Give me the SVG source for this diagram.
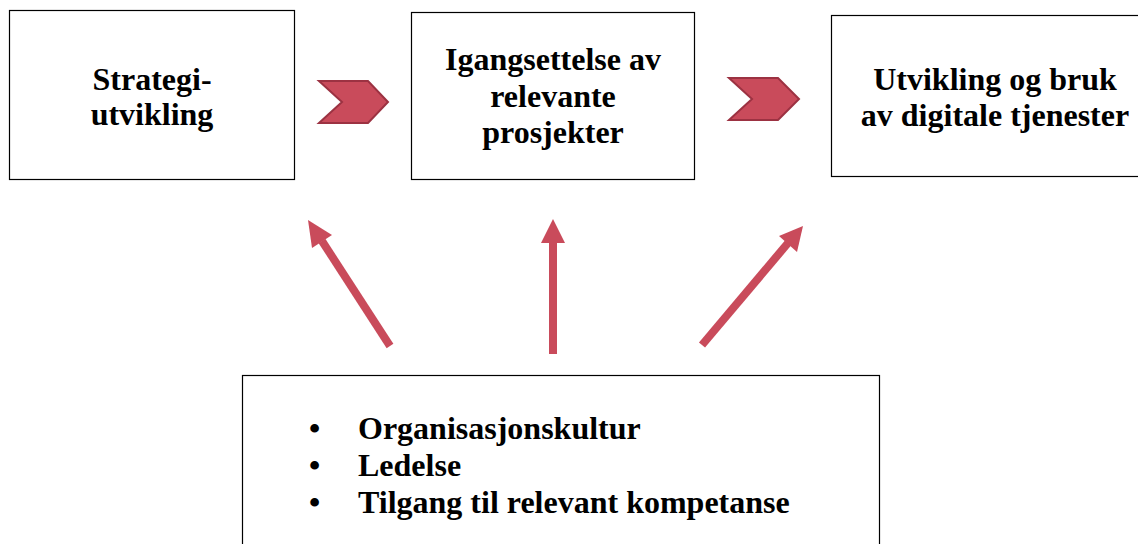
<svg xmlns="http://www.w3.org/2000/svg" width="1138" height="544" viewBox="0 0 1138 544">
<style>
.box{fill:#fff;stroke:#000;stroke-width:1.2}
.t{font-family:"Liberation Serif","Times New Roman",serif;font-weight:bold;font-size:32px;fill:#000;text-anchor:middle}
.l{font-family:"Liberation Serif","Times New Roman",serif;font-weight:bold;font-size:32px;fill:#000}
.chev{fill:#c94b5b;stroke:#9c3242;stroke-width:2;stroke-linejoin:miter}
.arr{stroke:#c94b5b;stroke-width:8;fill:none}
.head{fill:#c94b5b}
</style>
<rect width="1138" height="544" fill="#fff"/>
<g id="node-strategi">
<rect class="box" x="9.5" y="10.5" width="285" height="169"/>
<text class="t" x="152" y="90">Strategi-</text>
<text class="t" x="152" y="125">utvikling</text>
</g>
<g id="node-igangsettelse">
<rect class="box" x="411.5" y="12.5" width="283" height="167"/>
<text class="t" x="553" y="70">Igangsettelse av</text>
<text class="t" x="553" y="107">relevante</text>
<text class="t" x="553" y="143">prosjekter</text>
</g>
<g id="node-utvikling">
<rect class="box" x="831.5" y="15.5" width="310" height="161"/>
<text class="t" x="995" y="90">Utvikling og bruk</text>
<text class="t" x="995" y="126">av digitale tjenester</text>
</g>
<g id="node-faktorer">
<rect class="box" x="242.5" y="375.5" width="637" height="175"/>
<text class="l" x="309" y="439">•</text>
<text class="l" x="358" y="439">Organisasjonskultur</text>
<text class="l" x="309" y="476">•</text>
<text class="l" x="358" y="476">Ledelse</text>
<text class="l" x="309" y="513">•</text>
<text class="l" x="358" y="513">Tilgang til relevant kompetanse</text>
</g>
<g id="connectors">
<polygon class="chev" points="319,81 368,81 388,102 368,123 319,123 342,102"/>
<polygon class="chev" points="729,78 778,78 799,99 778,120 729,120 752,99"/>
<line class="arr" x1="390" y1="346" x2="322" y2="241"/>
<polygon class="head" points="308,220 332,235 312,248"/>
<line class="arr" x1="553" y1="354" x2="553" y2="240"/>
<polygon class="head" points="553,219 565,243 541,243"/>
<line class="arr" x1="702" y1="345" x2="788" y2="243"/>
<polygon class="head" points="803,226 797,252 779,236"/>
</g>
</svg>
